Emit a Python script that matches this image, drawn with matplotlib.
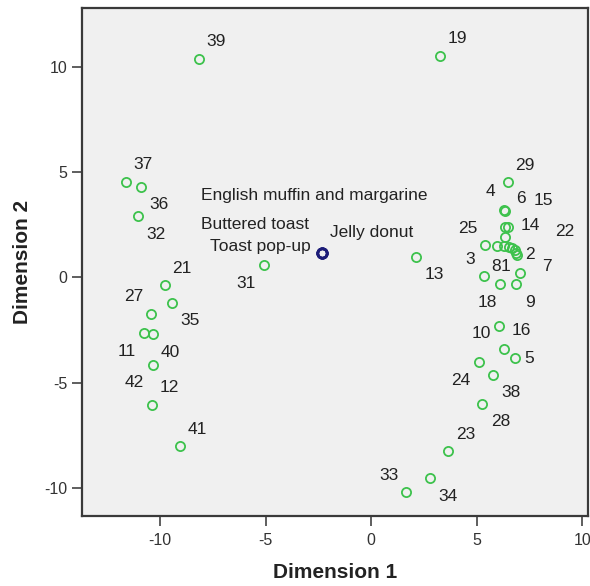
import matplotlib
matplotlib.use("Agg")
import matplotlib.pyplot as plt

# ---------------- data ----------------
labels = ["39", "19", "37", "36", "32", "21", "35", "27", "11", "40", "42", "12", "41", "31",
          "13", "16", "10", "5", "24", "38", "28", "23", "34", "33",
          "29", "4", "6", "14", "15", "22", "25", "8", "1", "", "", "", "", "2", "7", "3", "18", "9"]
dim1 = [-8.15, 3.27, -11.63, -10.91, -11.03, -9.76, -9.42, -10.44, -10.74, -10.35, -10.36, -10.39, -9.05, -5.06,
        2.12, 6.07, 6.27, 6.82, 5.09, 5.77, 5.27, 3.66, 2.80, 1.64,
        6.48, 6.27, 6.33, 6.48, 6.32, 6.32, 5.40, 5.96, 6.27, 6.51, 6.67, 6.79, 6.86, 6.91, 7.06, 5.32, 6.11, 6.86]
dim2 = [10.40, 10.54, 4.55, 4.32, 2.90, -0.38, -1.20, -1.72, -2.66, -2.70, -4.15, -6.05, -8.02, 0.57,
        0.98, -2.33, -3.40, -3.84, -4.03, -4.63, -6.00, -8.26, -9.55, -10.21,
        4.52, 3.22, 3.14, 2.40, 2.40, 1.91, 1.53, 1.48, 1.48, 1.45, 1.40, 1.28, 1.15, 1.05, 0.19, 0.06, -0.33, -0.33]

product_labels = ["English muffin and margarine", "Buttered toast", "Toast pop-up", "Jelly donut"]
product_dim1 = [-2.31, -2.31, -2.31, -2.31]
product_dim2 = [1.17, 1.17, 1.17, 1.17]

x_ticks = [-10, -5, 0, 5, 10]
y_ticks = [-10, -5, 0, 5, 10]

# label placement offsets (pixels): (dx, dy) with dy positive = up
UR, LR, UL, LL = (17, 17), (18, -18), (-17, 17), (-18, -18)
label_offsets = {
    "39": UR, "19": UR, "37": UR, "36": LR, "32": LR, "21": UR, "35": LR, "27": UL,
    "11": LL, "40": LR, "42": LL, "12": UR, "41": UR, "31": LL, "13": LR,
    "16": (22, -4), "10": (-22, 15), "5": (14, 0), "24": LL, "38": LR, "28": LR,
    "23": UR, "34": LR, "33": UL,
    "29": UR, "4": (-13, 18), "6": (16, 13), "14": (22, 1), "15": (39, 26), "22": (60, 6),
    "25": UL, "8": (-1, -20), "1": (2, -20), "2": (13, 1), "7": (27, 7), "3": (-13, 17),
    "18": (-13, -18), "9": (14, -18),
}
product_offsets = {
    "English muffin and margarine": (-121, 57, "left"),
    "Buttered toast": (-121, 28, "left"),
    "Toast pop-up": (-12, 6, "right"),
    "Jelly donut": (8, 20, "left"),
}

# ---------------- figure ----------------
font = ["Liberation Sans", "DejaVu Sans"]
plt.rcParams["font.family"] = font

fig = plt.figure(figsize=(5.90, 5.86), dpi=100)
ax = fig.add_axes([0.139, 0.12, 0.858, 0.866])
ax.set_facecolor("#f0f0f0")

green = "#3dc24c"
navy = "#1c1c78"

ax.plot(dim1, dim2, linestyle="none", marker="o", markersize=6.6,
        markerfacecolor="none", markeredgecolor=green, markeredgewidth=1.3, zorder=3)
ax.plot(product_dim1, product_dim2, linestyle="none", marker="o", markersize=6.8,
        markerfacecolor="none", markeredgecolor=navy, markeredgewidth=1.9, zorder=4)

label_size = 12.5
for lab, x, y in zip(labels, dim1, dim2):
    if not lab:
        continue
    dx, dy = label_offsets.get(lab, UR)
    ax.annotate(lab, (x, y), xytext=(dx, dy), textcoords="offset pixels",
                ha="center", va="center", fontsize=label_size, color="#222222", zorder=5)

for lab, x, y in zip(product_labels, product_dim1, product_dim2):
    dx, dy, ha = product_offsets[lab]
    ax.annotate(lab, (x, y), xytext=(dx, dy), textcoords="offset pixels",
                ha=ha, va="center", fontsize=label_size, color="#222222", zorder=5)

ax.set_xlim(-13.7, 10.28)
ax.set_ylim(-11.33, 12.8)
ax.set_xticks(x_ticks)
ax.set_yticks(y_ticks)
ax.set_xticklabels([str(t) for t in x_ticks])
ax.set_yticklabels([str(t) for t in y_ticks])
ax.tick_params(axis="both", direction="out", length=7.2, width=1.1, color="#333333",
               labelsize=11.5, labelcolor="#333333")
ax.tick_params(axis="x", pad=5)
ax.tick_params(axis="y", pad=3.5)

for sp in ax.spines.values():
    sp.set_color("#3a3a3a")
    sp.set_linewidth(1.6)

ax.set_xlabel("Dimension 1", fontsize=15, fontweight="bold", color="#222222")
ax.set_ylabel("Dimension 2", fontsize=15, fontweight="bold", color="#222222")
ax.xaxis.label.set_va("center")
ax.yaxis.label.set_va("center")
ax.xaxis.set_label_coords(0.5, -57 / 508)
ax.yaxis.set_label_coords(-59 / 506, 0.5)

fig.savefig("out.png", dpi=100, facecolor="white")
